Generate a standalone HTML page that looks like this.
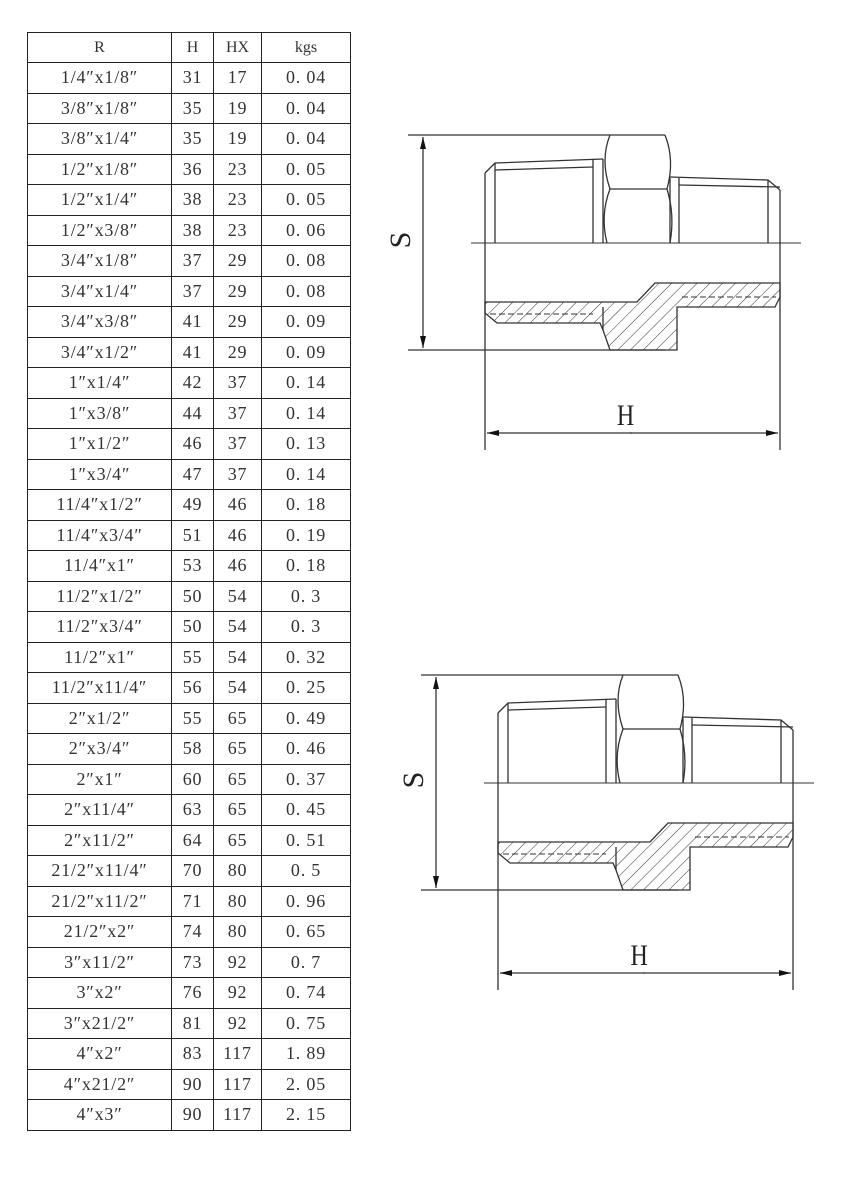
<!DOCTYPE html>
<html><head><meta charset="utf-8"><style>
body{margin:0;width:842px;height:1192px;background:#fff;position:relative;overflow:hidden}
table{position:absolute;left:27px;top:32px;border-collapse:collapse;font-family:"Liberation Serif",serif;font-size:18px;color:#333;letter-spacing:0.8px}
td{border:1.3px solid #222;padding:0;text-align:center;height:29.5px;line-height:29px;white-space:nowrap}
tr.h td{height:29px;font-size:16px;letter-spacing:0}
svg{position:absolute;left:0;top:0}
</style></head><body>
<table>
<colgroup><col style="width:144px"><col style="width:42px"><col style="width:48px"><col style="width:89px"></colgroup>
<tr class="h"><td>R</td><td>H</td><td>HX</td><td>kgs</td></tr>
<tr><td>1/4″x1/8″</td><td>31</td><td>17</td><td>0. 04</td></tr>
<tr><td>3/8″x1/8″</td><td>35</td><td>19</td><td>0. 04</td></tr>
<tr><td>3/8″x1/4″</td><td>35</td><td>19</td><td>0. 04</td></tr>
<tr><td>1/2″x1/8″</td><td>36</td><td>23</td><td>0. 05</td></tr>
<tr><td>1/2″x1/4″</td><td>38</td><td>23</td><td>0. 05</td></tr>
<tr><td>1/2″x3/8″</td><td>38</td><td>23</td><td>0. 06</td></tr>
<tr><td>3/4″x1/8″</td><td>37</td><td>29</td><td>0. 08</td></tr>
<tr><td>3/4″x1/4″</td><td>37</td><td>29</td><td>0. 08</td></tr>
<tr><td>3/4″x3/8″</td><td>41</td><td>29</td><td>0. 09</td></tr>
<tr><td>3/4″x1/2″</td><td>41</td><td>29</td><td>0. 09</td></tr>
<tr><td>1″x1/4″</td><td>42</td><td>37</td><td>0. 14</td></tr>
<tr><td>1″x3/8″</td><td>44</td><td>37</td><td>0. 14</td></tr>
<tr><td>1″x1/2″</td><td>46</td><td>37</td><td>0. 13</td></tr>
<tr><td>1″x3/4″</td><td>47</td><td>37</td><td>0. 14</td></tr>
<tr><td>11/4″x1/2″</td><td>49</td><td>46</td><td>0. 18</td></tr>
<tr><td>11/4″x3/4″</td><td>51</td><td>46</td><td>0. 19</td></tr>
<tr><td>11/4″x1″</td><td>53</td><td>46</td><td>0. 18</td></tr>
<tr><td>11/2″x1/2″</td><td>50</td><td>54</td><td>0. 3</td></tr>
<tr><td>11/2″x3/4″</td><td>50</td><td>54</td><td>0. 3</td></tr>
<tr><td>11/2″x1″</td><td>55</td><td>54</td><td>0. 32</td></tr>
<tr><td>11/2″x11/4″</td><td>56</td><td>54</td><td>0. 25</td></tr>
<tr><td>2″x1/2″</td><td>55</td><td>65</td><td>0. 49</td></tr>
<tr><td>2″x3/4″</td><td>58</td><td>65</td><td>0. 46</td></tr>
<tr><td>2″x1″</td><td>60</td><td>65</td><td>0. 37</td></tr>
<tr><td>2″x11/4″</td><td>63</td><td>65</td><td>0. 45</td></tr>
<tr><td>2″x11/2″</td><td>64</td><td>65</td><td>0. 51</td></tr>
<tr><td>21/2″x11/4″</td><td>70</td><td>80</td><td>0. 5</td></tr>
<tr><td>21/2″x11/2″</td><td>71</td><td>80</td><td>0. 96</td></tr>
<tr><td>21/2″x2″</td><td>74</td><td>80</td><td>0. 65</td></tr>
<tr><td>3″x11/2″</td><td>73</td><td>92</td><td>0. 7</td></tr>
<tr><td>3″x2″</td><td>76</td><td>92</td><td>0. 74</td></tr>
<tr><td>3″x21/2″</td><td>81</td><td>92</td><td>0. 75</td></tr>
<tr><td>4″x2″</td><td>83</td><td>117</td><td>1. 89</td></tr>
<tr><td>4″x21/2″</td><td>90</td><td>117</td><td>2. 05</td></tr>
<tr><td>4″x3″</td><td>90</td><td>117</td><td>2. 15</td></tr>
</table>
<svg width="842" height="1192" viewBox="0 0 842 1192">
<defs>
<pattern id="hat" patternUnits="userSpaceOnUse" width="9" height="9" patternTransform="rotate(45)">
<line x1="0" y1="0" x2="0" y2="9" stroke="#333" stroke-width="1"/>
</pattern>
<marker id="ar" markerWidth="12" markerHeight="6" refX="12" refY="3" orient="auto" markerUnits="userSpaceOnUse">
<path d="M0,0 L12,3 L0,6 Z" fill="#111"/></marker>
<g id="fit" fill="none" stroke="#333" stroke-width="1.3">
<line x1="408" y1="135" x2="665" y2="135"/>
<line x1="408" y1="350" x2="665" y2="350"/>
<line x1="423" y1="243" x2="423" y2="137" marker-end="url(#ar)"/>
<line x1="423" y1="243" x2="423" y2="348" marker-end="url(#ar)"/>
<line x1="485" y1="173" x2="485" y2="450"/>
<line x1="780" y1="190" x2="780" y2="450"/>
<line x1="632" y1="433" x2="487" y2="433" marker-end="url(#ar)"/>
<line x1="630" y1="433" x2="778" y2="433" marker-end="url(#ar)"/>
<line x1="471" y1="243" x2="801" y2="243" stroke-width="1"/>
<path d="M485,173 L495,163 L603,159"/>
<line x1="495" y1="163" x2="495" y2="243"/>
<line x1="495" y1="170" x2="593" y2="167"/>
<line x1="593" y1="159" x2="593" y2="243"/>
<line x1="603" y1="159" x2="603" y2="243"/>
<path d="M610,135 Q600,160 610,189 Q600,215 607,243"/>
<path d="M665,135 Q675,160 667,189 Q675,215 670,243"/>
<line x1="610" y1="189" x2="667" y2="189"/>
<line x1="670" y1="178" x2="670" y2="243"/>
<line x1="679" y1="178" x2="679" y2="243"/>
<path d="M670,177 L768,180 L780,190"/>
<line x1="679" y1="185" x2="780" y2="187"/>
<line x1="768" y1="180" x2="768" y2="243"/>
<path d="M485,302 L637,302 L655,283 L780,283 L780,297 L775,307 L677,307 L677,350 L610,350 L603,330 L600,323 L497,323 L485,313 Z" fill="url(#hat)"/>
<line x1="490" y1="314" x2="593" y2="314" stroke-dasharray="6,3" stroke-width="1"/>
<line x1="682" y1="297" x2="776" y2="297" stroke-dasharray="6,3" stroke-width="1"/>
<line x1="603" y1="307" x2="603" y2="330"/>
</g>
</defs>
<use href="#fit"/>
<use href="#fit" transform="translate(13,540)"/>
<g font-family="Liberation Serif,serif" font-size="30" fill="#222">
<text x="626" y="425" text-anchor="middle" transform="scale(0.8,1) translate(156,0)">H</text>
<text x="639" y="965" text-anchor="middle" transform="scale(0.8,1) translate(160,0)">H</text>
<text transform="translate(410,240) rotate(-90)" text-anchor="middle">S</text>
<text transform="translate(423,780) rotate(-90)" text-anchor="middle">S</text>
</g>
</svg>
</body></html>
